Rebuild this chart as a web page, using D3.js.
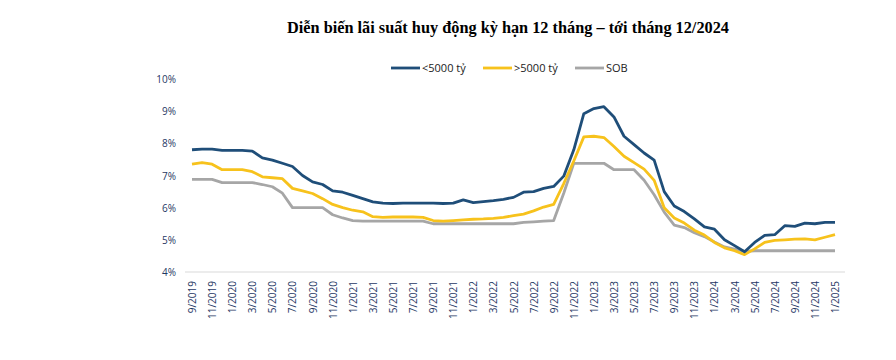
<!DOCTYPE html>
<html><head><meta charset="utf-8">
<script src="https://cdn.jsdelivr.net/npm/d3@7"></script>
<style>body{margin:0;background:#fff}svg{display:block}</style>
</head><body><svg id="c" width="896" height="360"></svg>
<script>
const months = ["9/2019","10/2019","11/2019","12/2019","1/2020","2/2020","3/2020","4/2020","5/2020","6/2020","7/2020","8/2020","9/2020","10/2020","11/2020","12/2020",
"1/2021","2/2021","3/2021","4/2021","5/2021","6/2021","7/2021","8/2021","9/2021","10/2021","11/2021","12/2021",
"1/2022","2/2022","3/2022","4/2022","5/2022","6/2022","7/2022","8/2022","9/2022","10/2022","11/2022","12/2022",
"1/2023","2/2023","3/2023","4/2023","5/2023","6/2023","7/2023","8/2023","9/2023","10/2023","11/2023","12/2023",
"1/2024","2/2024","3/2024","4/2024","5/2024","6/2024","7/2024","8/2024","9/2024","10/2024","11/2024","12/2024","1/2025"];
const tickLabels = ["9/2019","11/2019","1/2020","3/2020","5/2020","7/2020","9/2020","11/2020","1/2021","3/2021","5/2021","7/2021","9/2021","11/2021","1/2022","3/2022","5/2022","7/2022","9/2022","11/2022","1/2023","3/2023","5/2023","7/2023","9/2023","11/2023","1/2024","3/2024","5/2024","7/2024","9/2024","11/2024","1/2025"];
const yTicks = [4,5,6,7,8,9,10];
const small = [7.80,7.82,7.82,7.78,7.78,7.78,7.76,7.55,7.48,7.38,7.28,7.00,6.80,6.72,6.52,6.48,
6.38,6.28,6.18,6.14,6.13,6.14,6.14,6.14,6.14,6.13,6.14,6.24,
6.16,6.19,6.22,6.26,6.32,6.48,6.50,6.60,6.66,6.98,7.80,8.92,
9.08,9.14,8.82,8.22,7.96,7.70,7.48,6.50,6.05,5.88,5.65,5.40,
5.33,5.00,4.82,4.63,4.92,5.14,5.16,5.44,5.42,5.52,5.50,5.54,5.54];
const large = [7.35,7.40,7.35,7.18,7.18,7.18,7.12,6.96,6.93,6.90,6.60,6.52,6.44,6.28,6.10,6.00,
5.92,5.87,5.72,5.70,5.71,5.71,5.71,5.70,5.60,5.58,5.60,5.62,
5.64,5.65,5.67,5.70,5.75,5.80,5.90,6.02,6.10,6.75,7.45,8.20,
8.22,8.18,7.90,7.60,7.40,7.20,6.85,6.00,5.68,5.52,5.30,5.15,
4.92,4.75,4.66,4.54,4.72,4.92,4.98,5.00,5.02,5.03,5.00,5.08,5.16];
const sob = [6.88,6.88,6.88,6.78,6.78,6.78,6.78,6.72,6.65,6.45,6.00,6.00,6.00,6.00,5.78,5.68,
5.60,5.58,5.58,5.58,5.58,5.58,5.58,5.58,5.50,5.50,5.50,5.50,
5.50,5.50,5.50,5.50,5.50,5.54,5.56,5.58,5.60,6.45,7.38,7.38,
7.38,7.38,7.18,7.18,7.18,6.85,6.40,5.86,5.46,5.38,5.22,5.10,
4.93,4.78,4.71,4.64,4.66,4.66,4.66,4.66,4.66,4.66,4.66,4.66,4.66];
const seriesNames = ["<5000 tỷ", ">5000 tỷ", "SOB"];
const seriesColors = ["#1f4e79", "#f7c21c", "#a6a6a6"];
const seriesData = [small, large, sob];

const svg = d3.select("#c");
const x = d3.scalePoint().domain(months).range([192, 835]);
const y = d3.scaleLinear().domain([4, 10]).range([272, 79]);

svg.append("text").attr("x", 508).attr("y", 33).attr("text-anchor", "middle")
  .style("font-family", "'Liberation Serif','Times New Roman',serif").style("font-weight", "bold")
  .style("font-size", "16.3px").attr("fill", "#000")
  .text("Diễn biến lãi suất huy động kỳ hạn 12 tháng – tới tháng 12/2024");

// baseline
svg.append("line").attr("x1", 185).attr("x2", 845).attr("y1", y(4)).attr("y2", y(4))
  .attr("stroke", "#d9d9d9").attr("stroke-width", 1);

// y axis
const yAxis = d3.axisLeft(y).tickValues(yTicks).tickFormat(d => d + "%").tickSize(0).tickPadding(0);
const gy = svg.append("g").attr("transform", "translate(176,0)").call(yAxis);
gy.select(".domain").remove();
gy.selectAll("text").style("font-family", "'Open Sans','Liberation Sans',sans-serif")
  .style("font-size", "10px").attr("fill", "#1f3864").attr("dy", "0.35em");

// x axis
const xAxis = d3.axisBottom(x).tickValues(tickLabels).tickSize(0).tickPadding(0);
const gx = svg.append("g").attr("transform", "translate(0,281)").call(xAxis);
gx.select(".domain").remove();
gx.selectAll("text").attr("transform", "rotate(-90)").attr("text-anchor", "end")
  .attr("x", 0).attr("y", 0).attr("dx", 0).attr("dy", "0.35em")
  .style("font-family", "'Open Sans','Liberation Sans',sans-serif")
  .style("font-size", "10px").attr("fill", "#1f3864");

// lines
const line = d3.line().x((d, i) => x(months[i])).y(d => y(d));
[2, 1, 0].forEach(k => {
  svg.append("path").datum(seriesData[k]).attr("d", line).attr("fill", "none")
    .attr("stroke", seriesColors[k]).attr("stroke-width", 2.8).attr("stroke-linejoin", "round");
});

// legend
const legX = [391, 483, 575];
seriesNames.forEach((n, k) => {
  svg.append("line").attr("x1", legX[k]).attr("x2", legX[k] + 29).attr("y1", 68).attr("y2", 68)
    .attr("stroke", seriesColors[k]).attr("stroke-width", 2.8);
  svg.append("text").attr("x", legX[k] + 31).attr("y", 68).attr("dy", "0.35em")
    .style("font-family", "'Open Sans','Liberation Sans',sans-serif").style("font-size", "11px")
    .attr("fill", "#222").text(n);
});
</script></body></html>
